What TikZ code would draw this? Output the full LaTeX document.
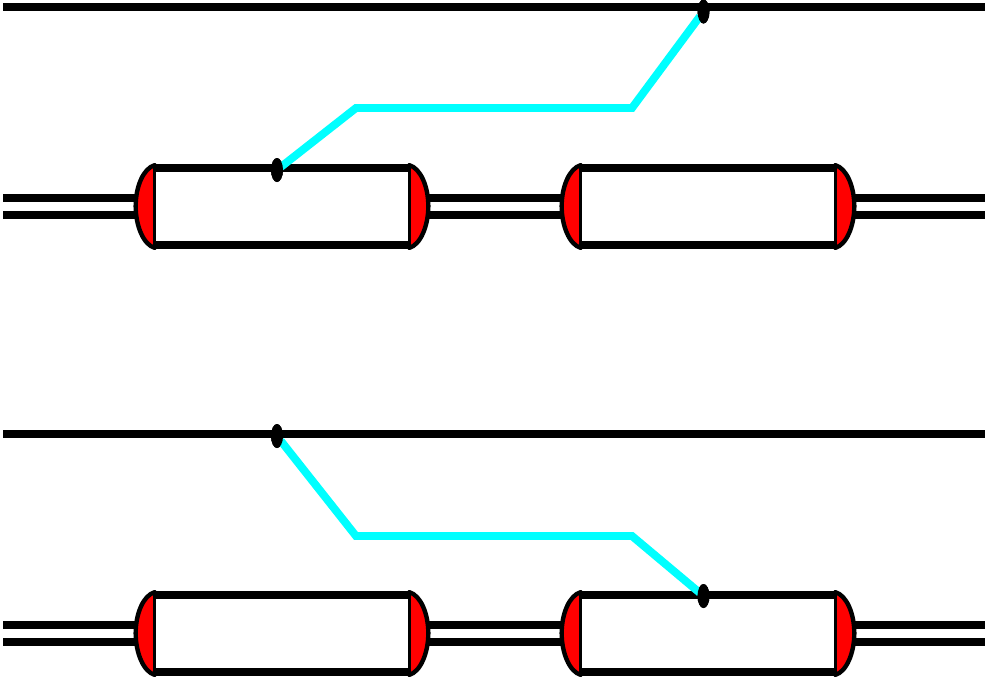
\documentclass[tikz,border=0pt]{standalone}
\usepackage{xcolor}
\usetikzlibrary{shapes.geometric}
\definecolor{mycyan}{RGB}{0,255,255}
\definecolor{myred}{RGB}{255,0,0}

\tikzset{
    rail/.style={line width=4.5pt},
    tap/.style={mycyan, line width=4.5pt, shorten <=-1.5pt, shorten >=-1.5pt},
    housing/.style={minimum width=5.08cm, minimum height=1.54cm, inner sep=0pt},
    contact/.style={fill=black, ellipse, minimum width=0.24cm, minimum height=0.48cm, inner sep=0pt},
    capline/.style={line width=2.5pt, line cap=round},
    capside/.style={line width=1.7pt}
}

% one rounded end of a housing, #3 is 1 for a bulge to the left, -1 to the right
\newcommand{\capbulge}[3]{
    \coordinate (capN) at ([yshift=0.05cm]#1);
    \coordinate (capS) at ([yshift=-0.05cm]#2);
    \filldraw[myred, draw=black, capline] (capN) .. controls +({-11*#3}, 3) and +(0, -20) .. +({-19*#3}, 41)
        .. controls +(0, 20) and +({-11*#3}, -3) .. (capS);
    \draw[capside] (capN) -- (capS);
}

\begin{document}
\begin{tikzpicture}[x=0.02cm, y=-0.02cm]
    \useasboundingbox (0, 0) rectangle (985, 681);

    \coordinate (railAw) at (3, 7);
    \coordinate (railAe) at (985, 7);
    \coordinate (stubAw) at (3, 206.5);
    \coordinate (stubAe) at (985, 206.5);

    \node[housing] (boxA) at (282, 206.5) {};
    \node[housing] (boxB) at (708, 206.5) {};

    \draw[rail] (railAw) -- (railAe);

    %%%

    \coordinate (railBw) at (3, 434);
    \coordinate (railBe) at (985, 434);
    \coordinate (stubBw) at (3, 633.5);
    \coordinate (stubBe) at (985, 633.5);

    \node[housing] (boxC) at (282, 633.5) {};
    \node[housing] (boxD) at (708, 633.5) {};

    \draw[rail] (railBw) -- (railBe);

    %%%

    \foreach \l/\r/\pw/\pe in {boxA/boxB/stubAw/stubAe, boxC/boxD/stubBw/stubBe} {
        \foreach \s in {-0.165, 0.165} {
            \draw[rail] ([yshift=\s cm]\pw) -- ([yshift=\s cm]\l.center);
            \draw[rail] ([yshift=\s cm]\l.center) -- ([yshift=\s cm]\r.center);
            \draw[rail] ([yshift=\s cm]\r.center) -- ([yshift=\s cm]\pe);
        }
    }

    \foreach \b in {boxA, boxB, boxC, boxD} {
        \fill[white] (\b.north west) rectangle (\b.south east);
        \draw[rail] (\b.north west) -- (\b.north east);
        \draw[rail] (\b.south west) -- (\b.south east);
        \capbulge{\b.north west}{\b.south west}{1}
        \capbulge{\b.north east}{\b.south east}{-1}
    }

    %%%

    \coordinate (bendAa) at (356, 108);
    \coordinate (bendAb) at (632, 108);
    \node[contact] (tapAa) at (277, 170) {};
    \node[contact] (tapAb) at (703.5, 11.5) {};
    \draw[tap] (tapAa) -- (bendAa) -- (bendAb) -- (tapAb);

    \coordinate (bendBa) at (356, 536);
    \coordinate (bendBb) at (632, 536);
    \node[contact] (tapBa) at (277, 436) {};
    \node[contact] (tapBb) at (703.5, 596) {};
    \draw[tap] (tapBa) -- (bendBa) -- (bendBb) -- (tapBb);

    % the contacts sit on top of the cyan ends
    \foreach \t in {tapAa, tapAb, tapBa, tapBb} {
        \node[contact] at (\t) {};
    }
\end{tikzpicture}
\end{document}
